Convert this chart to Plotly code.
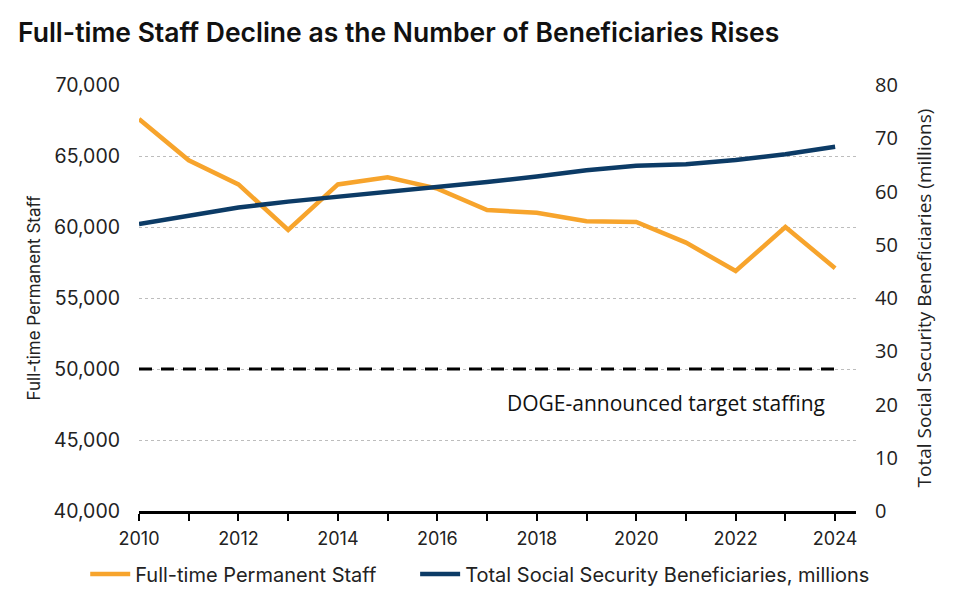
import plotly.graph_objects as go

# Data
years = list(range(2010, 2025))
staff = [67600, 64700, 63000, 59800, 63000, 63500, 62700, 61200,
         61000, 60400, 60350, 58900, 56900, 60000, 57100]
beneficiaries = [53.9, 55.5, 57.0, 58.1, 59.0, 59.8, 60.8, 61.8,
                 62.8, 64.0, 64.85, 65.1, 65.9, 67.0, 68.4]
target = [50000] * len(years)

orange = '#F7A42C'
navy = '#0C3B66'

fig = go.Figure()

# DOGE target (not in legend)
fig.add_trace(go.Scatter(
    x=years, y=target, mode='lines', showlegend=False,
    line=dict(color='black', width=3, dash='13px,9px'),
    hoverinfo='skip'
))

# trailing non-breaking spaces widen the gap between legend entries
fig.add_trace(go.Scatter(
    x=years, y=staff, mode='lines', name='Full-time Permanent Staff' + '\u00a0' * 6,
    line=dict(color=orange, width=4.5)
))

fig.add_trace(go.Scatter(
    x=years, y=beneficiaries, mode='lines', yaxis='y2',
    name='Total Social Security Beneficiaries, millions',
    line=dict(color=navy, width=4.5)
))

fig.add_annotation(
    x=2020.6, y=47600, text='DOGE-announced target staffing',
    showarrow=False, font=dict(family='Open Sans', size=21, color='#111')
)

# page has an 8px body margin, so margins are offset accordingly
fig.update_layout(
    width=954, height=598,
    margin=dict(l=131, r=106, t=77, b=95),
    paper_bgcolor='white', plot_bgcolor='white',
    font=dict(family='Inter', color='#222'),
    title=dict(text='Full-time Staff Decline as the Number of Beneficiaries Rises',
               x=0.0105, xanchor='left', y=0.958, yanchor='middle',
               font=dict(family='Inter', size=26.5, weight=600, color='#111')),
    xaxis=dict(range=[2010, 2024.42], dtick=2, tick0=2010,
               showline=True, linecolor='black', linewidth=2.5,
               ticks='outside', ticklen=7, tickwidth=2, tickcolor='black',
               minor=dict(dtick=1, ticks='outside', ticklen=7, tickwidth=2, tickcolor='black'),
               showgrid=False, zeroline=False, ticklabelstandoff=3,
               tickfont=dict(size=18, color='#222')),
    yaxis=dict(range=[40000, 70000], dtick=5000, tickformat=',',
               showgrid=True, gridcolor='#BDBDBD', griddash='dot', gridwidth=1,
               zeroline=False, showline=False, ticks='', ticklabelstandoff=18,
               tickfont=dict(size=19.5, color='#222'),
               title=dict(text='Full-time Permanent Staff', standoff=8,
                          font=dict(family='Inter', size=17, color='#222'))),
    yaxis2=dict(range=[0, 80], dtick=10, overlaying='y', side='right',
                showgrid=False, zeroline=False, showline=False, ticks='',
                ticklabelstandoff=18,
                tickfont=dict(family='Open Sans', size=20, color='#222'),
                title=dict(text='Total Social Security Beneficiaries (millions)', standoff=20,
                           font=dict(family='Open Sans', size=19, color='#222'))),
    legend=dict(orientation='h', x=-0.075, xanchor='left', y=-0.148, yanchor='middle',
                font=dict(size=20, color='#222'), itemwidth=40, tracegroupgap=0),
    showlegend=True
)

fig.write_html('out.html')
